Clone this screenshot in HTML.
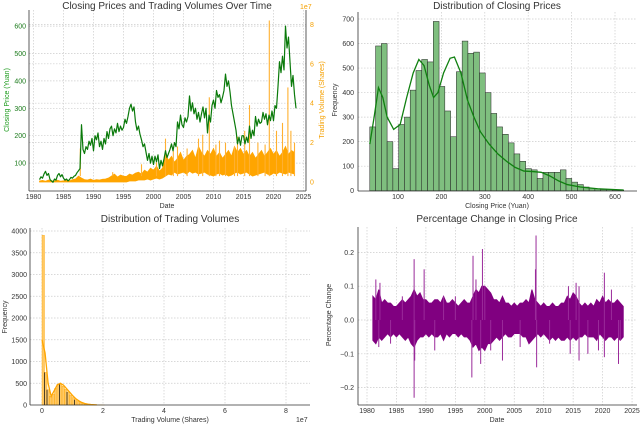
<!DOCTYPE html>
<html><head><meta charset="utf-8"><style>
body{margin:0;background:#fff;}
svg{display:block;font-family:"Liberation Sans",sans-serif;}
</style></head><body>
<svg id="c" width="640" height="425" viewBox="0 0 640 425"></svg>
<script>
// ---- Panel 1 data: closing price (4 points per year, from 1981) ----
const priceStart = 1981;
const priceVals = [40,50,45,60, 70,55,62,40, 35,30,42,38, 55,62,50,58, 45,38,42,35, 40,48,45,52, 55,65,72,80,
240,150,135,160, 150,180,165,190, 145,200,185,210, 160,180,150,190, 170,215,190,225, 235,200,225,210, 245,215,235,220,
230,260,245,270, 300,315,290,305, 250,220,235,205, 185,160,170,140, 110,135,100,125, 95,125,105,130, 80,110,90,115,
145,120,135,150, 170,145,175,160, 250,225,275,240, 230,265,250,270, 345,290,320,280, 300,260,285,250, 280,305,265,300,
210,275,250,310, 330,300,365,340, 350,320,340,365, 425,380,400,360, 310,280,250,220, 170,195,165,200, 200,170,195,175,
235,190,220,200, 270,235,260,245, 250,285,260,280, 240,275,255,290, 255,310,300,380, 470,430,490,440, 600,520,560,470, 380,420,350,300];
// volume band per half-year (1e7 shares) from 1981
const volHi = [.05,.08,.04,.1,.06,.05,.09,.04,.06,.1,.05,.12,
.15,.3,.2,.12,.1,.15,.08,.12,.1,.14,.15,.2,
.3,.4,.25,.35,.3,.28,.4,.35,.45,.5,.4,.6,
.5,.7,.6,.8,.55,.7,
1.4,1.1,1.3,1.0,1.2,1.5,1.1,1.3,1.4,1.6,1.2,1.8,1.5,1.3,1.6,1.4,1.7,1.3,1.5,1.2,1.4,1.6,1.3,1.8,1.5,1.7,1.4,1.6,1.3,1.5,1.2,1.4,1.6,1.3,1.5,1.7,1.4,1.6,1.3,1.5,1.8,1.4,1.6,1.5];
const volLo = [0,0,0,0,0,0,0,0,0,0,0,0,0,0,0,0,0,0,0,0,0,0,0,0,0,0,0,0,0,0,
.05,.05,.05,.1,.1,.1,.15,.1,.15,.2,.15,.2,
.3,.4,.35,.5,.4,.45,.5,.4,.55,.45,.5,.4,.45,.5,.4,.35,.3,.4,.45,.35,.4,.3,.35,.45,.5,.4,.45,.5,.4,.3,.35,.4,.45,.5,.4,.35,.45,.4,.5,.45,.4,.5,.45,.4];
const volSpikeYears = [1987.8,1993.2,1998,2000.5,2002,2003.3,2004,2005.6,2007.5,2008.2,2009.3,2010.4,2011,2012,2013.5,2014,2015.2,2016,2017.4,2018.6,2019.3,2020.5,2021.5,2022.4,2022.9,2023.5];
const volSpikeVals = [1.7,0.5,0.9,1.0,2.2,1.6,1.8,1.7,2.2,2.4,4.3,1.9,2.1,2.0,1.8,2.3,2.6,3.9,2.0,1.9,8.2,2.6,3.0,4.8,2.6,2.0];
const yearTicks = [1980,1985,1990,1995,2000,2005,2010,2015,2020,2025];
const priceTicks = [100,200,300,400,500,600];
const volTicks = [0,2,4,6,8];
// ---- Panel 2: closing price histogram ----
const histStart = 35, histWidth = 13.3;
const priceCounts = [260,590,600,200,90,270,300,410,490,535,525,690,425,325,220,485,610,560,565,480,400,315,260,230,195,150,120,90,85,50,75,75,75,85,50,35,25,15,10,8,5,5,3,2];
const kdeX = [35,45,55,65,75,90,105,120,135,148,160,172,182,192,205,220,230,245,260,275,290,310,330,350,370,390,410,430,450,470,490,520,560,620];
const kdeY = [190,300,420,380,300,250,270,380,480,535,510,430,380,400,480,540,545,480,370,300,240,190,150,120,95,80,78,75,60,40,25,15,8,3];
const freqTicks2 = [0,100,200,300,400,500,600,700];
const priceXTicks = [100,200,300,400,500,600];
// ---- Panel 3: volume histogram ----
const vbinWidth = 0.082;
const volCounts = [3900,750,350,200,250,380,480,480,430,360,300,230,170,120,80,50,35,20,15,10,6,4,3,2,1];
const vkdeX = [0,0.1,0.2,0.3,0.4,0.5,0.6,0.7,0.8,0.9,1.0,1.1,1.2,1.3,1.4,1.5,1.6,1.8];
const vkdeY = [1500,1200,500,200,330,460,500,460,380,300,220,150,100,60,35,20,10,3];
const freqTicks3 = [0,500,1000,1500,2000,2500,3000,3500,4000];
const volXTicks = [0,2,4,6,8];
// ---- Panel 4: pct change envelope per half-year from 1981 ----
const pctHi = [.07,.06,.09,.05,.06,.05,.05,.04,.04,.05, .06,.05,.06,.07,.09,.07,.08,.06,.06,.05,
.05,.06,.06,.05,.07,.05,.05,.06,.05,.04, .05,.06,.05,.05,.07,.09,.08,.1,.1,.09,
.08,.06,.06,.05,.07,.05,.05,.04,.05,.04, .05,.05,.06,.05,.09,.06,.05,.04,.05,.04,
.04,.05,.04,.04,.05,.05,.07,.06,.08,.07, .05,.04,.05,.04,.05,.04,.06,.05,.07,.05, .06,.05,.05,.06,.05,.04];
const pctLo = [-.06,-.07,-.05,-.06,-.05,-.04,-.05,-.04,-.05,-.04, -.05,-.06,-.05,-.07,-.08,-.06,-.05,-.05,-.04,-.05,
-.04,-.05,-.05,-.04,-.06,-.04,-.05,-.04,-.04,-.05, -.04,-.05,-.05,-.06,-.08,-.07,-.09,-.08,-.09,-.07,
-.07,-.06,-.05,-.06,-.05,-.04,-.05,-.05,-.04,-.04, -.04,-.05,-.05,-.07,-.06,-.05,-.04,-.05,-.04,-.05,
-.06,-.05,-.06,-.05,-.06,-.06,-.05,-.06,-.05,-.06, -.05,-.05,-.04,-.05,-.05,-.05,-.06,-.04,-.05,-.06, -.05,-.05,-.06,-.05,-.06,-.05];
const pctSpikeYears = [1981.5,1982.2,1982,1988,1988,1988.1,1989.7,1991.5,1993,1998,1997.8,1998.5,1999.6,1999.3,2000,2003,2001,2008.7,2008.8,2008.6,2014.2,2014.5,2015.5,2016,2016,2017.5,2020.3,2020.3,2022.7,2021.5,2019.3,1984,1986,1995,2006,2011,2023];
const pctSpikeVals = [0.12,0.11,-0.08,0.18,-0.23,-0.12,0.15,-0.09,0.07,0.19,-0.17,0.12,0.21,-0.13,0.10,-0.12,-0.09,0.25,-0.14,0.15,0.1,-0.1,0.11,0.1,-0.12,-0.1,0.14,-0.11,-0.13,0.09,-0.09,-0.07,0.07,0.07,-0.08,-0.07,-0.06];
const pctTicks = [-0.2,-0.1,0.0,0.1,0.2];

const svg = document.getElementById('c');
const NS = 'http://www.w3.org/2000/svg';
function el(tag, attrs, parent){const e=document.createElementNS(NS,tag);for(const k in attrs)e.setAttribute(k,attrs[k]);(parent||svg).appendChild(e);return e;}
function txt(x,y,s,attrs){const e=el('text',Object.assign({x:x,y:y,'font-size':7,fill:'#333'},attrs||{}));e.textContent=s;return e;}
function grid(x1,y1,x2,y2){return el('line',{x1:x1,y1:y1,x2:x2,y2:y2,stroke:'#ccc','stroke-width':0.7,'stroke-dasharray':'1.5,1.5'});}

// ===== Panel 1 =====
const p1x = y => 33.5 + (y-1980)*6;
const p1p = p => 190.5 - p*0.274;
const p1v = v => 182 - v*19.7;
let g, t;
yearTicks.forEach(y=>{g=grid(p1x(y),10,p1x(y),191);
 t=txt(p1x(y),199,String(y),{'text-anchor':'middle'});});
priceTicks.forEach(p=>{g=grid(29,p1p(p),306,p1p(p));
 t=txt(26,p1p(p)+2.5,String(p),{'text-anchor':'end',fill:'#1a7a1a'});});
volTicks.forEach(v=>{if(v>0){g=grid(29,p1v(v),306,p1v(v));}
 t=txt(310,p1v(v)+2.5,String(v),{fill:'#f5a000'});});
let up=[],dn=[];
volHi.forEach((v,i)=>{up.push(p1x(priceStart+i*0.5)+','+p1v(v));});
volLo.forEach((v,i)=>{dn.unshift(p1x(priceStart+i*0.5)+','+p1v(v));});
let poly=el('polygon',{points:up.concat(dn).join(' '),fill:'#ffa500',stroke:'#ffa500','stroke-width':0.8});

volSpikeYears.forEach((y,i)=>{const l=el('line',{x1:p1x(y),x2:p1x(y),y1:p1v(0.3),y2:p1v(volSpikeVals[i]),stroke:'#ffb030','stroke-width':1.1});
 });
const pts=priceVals.map((p,i)=>p1x(priceStart+i*0.25)+','+p1p(p)).join(' ');
let pl=el('polyline',{points:pts,fill:'none',stroke:'#0a7a0a','stroke-width':1.2,'stroke-linejoin':'round'});

el('line',{x1:29,y1:10,x2:29,y2:191,stroke:'#333','stroke-width':0.8});
el('line',{x1:29,y1:191,x2:306,y2:191,stroke:'#333','stroke-width':0.8});
el('line',{x1:306,y1:10,x2:306,y2:191,stroke:'#333','stroke-width':0.8});
t=txt(167,9,'Closing Prices and Trading Volumes Over Time',{'text-anchor':'middle','font-size':10});
t=txt(300,9,'1e7',{'font-size':7,fill:'#f5a000'});
t=txt(167,208,'Date',{'text-anchor':'middle'});
t=txt(0,0,'Closing Price (Yuan)',{'text-anchor':'middle',fill:'#1a9a1a',transform:'translate(9,100) rotate(-90)'});
t=txt(0,0,'Trading Volume (Shares)',{'text-anchor':'middle',fill:'#f5a000',transform:'translate(324,100) rotate(-90)'});

// ===== Panel 2 =====
const p2x = c => 354.6 + c*0.434;
const p2y = f => 190.7 - f*0.2453;
priceXTicks.forEach(c=>{g=grid(p2x(c),12,p2x(c),191);
 t=txt(p2x(c),199,String(c),{'text-anchor':'middle'});});
freqTicks2.forEach(f=>{if(f>0){g=grid(358,p2y(f),637,p2y(f));}
 t=txt(354,p2y(f)+2.5,String(f),{'text-anchor':'end'});});
priceCounts.forEach((n,i)=>{const x0=p2x(histStart+i*histWidth),x1=p2x(histStart+(i+1)*histWidth);
 const r=el('rect',{x:x0,y:p2y(n),width:x1-x0,height:p2y(0)-p2y(n),fill:'#7fbf7f',stroke:'#222','stroke-width':0.5});
 });
let kp=kdeX.map((c,i)=>p2x(c)+','+p2y(kdeY[i])).join(' ');
let kl=el('polyline',{points:kp,fill:'none',stroke:'#108010','stroke-width':1.3});

el('line',{x1:358,y1:12,x2:358,y2:191,stroke:'#333','stroke-width':0.8});
el('line',{x1:358,y1:191,x2:637,y2:191,stroke:'#333','stroke-width':0.8});
t=txt(497,9,'Distribution of Closing Prices',{'text-anchor':'middle','font-size':10});
t=txt(497,208,'Closing Price (Yuan)',{'text-anchor':'middle'});
t=txt(0,0,'Frequency',{'text-anchor':'middle',transform:'translate(337,100) rotate(-90)'});

// ===== Panel 3 =====
const p3x = v => 42 + v*30.5;
const p3y = f => 405 - f*0.0435;
volXTicks.forEach(v=>{g=grid(p3x(v),228,p3x(v),405);
 t=txt(p3x(v),413,String(v),{'text-anchor':'middle'});});
freqTicks3.forEach(f=>{if(f>0){g=grid(30,p3y(f),310,p3y(f));}
 t=txt(27,p3y(f)+2.5,String(f),{'text-anchor':'end'});});
volCounts.forEach((n,i)=>{const x0=p3x(i*vbinWidth),x1=p3x((i+1)*vbinWidth);
 const r=el('rect',{x:x0,y:p3y(n),width:x1-x0,height:p3y(0)-p3y(n),fill:'#ffc966',stroke:'#ffa500','stroke-width':0.4});
 });
[1,2,7,10,13].forEach(i=>{el('line',{x1:p3x(i*vbinWidth),x2:p3x(i*vbinWidth),y1:405,y2:p3y(volCounts[i]),stroke:'#222','stroke-width':0.8});});
let vk=vkdeX.map((v,i)=>p3x(v)+','+p3y(vkdeY[i])).join(' ');
let vl=el('polyline',{points:vk,fill:'none',stroke:'#ffa500','stroke-width':1.3});

el('line',{x1:30,y1:228,x2:30,y2:405,stroke:'#333','stroke-width':0.8});
el('line',{x1:30,y1:405,x2:310,y2:405,stroke:'#333','stroke-width':0.8});
t=txt(170,222,'Distribution of Trading Volumes',{'text-anchor':'middle','font-size':10});
t=txt(170,422,'Trading Volume (Shares)',{'text-anchor':'middle'});
t=txt(296,422,'1e7',{});
t=txt(0,0,'Frequency',{'text-anchor':'middle',transform:'translate(7,317) rotate(-90)'});

// ===== Panel 4 =====
const p4x = y => 367 + (y-1980)*5.89;
const p4y = c => 320 - c*338;
yearTicks.forEach(y=>{g=grid(p4x(y),227,p4x(y),405);
 t=txt(p4x(y),413,String(y),{'text-anchor':'middle'});});
pctTicks.forEach(c=>{g=grid(358,p4y(c),637,p4y(c));
 t=txt(354,p4y(c)+2.5,(c<0?'\u22120.':'0.')+Math.round(Math.abs(c)*10),{'text-anchor':'end'});});
up=[];dn=[];
pctHi.forEach((v,i)=>{up.push(p4x(1981+i*0.5)+','+p4y(v));});
pctLo.forEach((v,i)=>{dn.unshift(p4x(1981+i*0.5)+','+p4y(v));});
poly=el('polygon',{points:up.concat(dn).join(' '),fill:'#800080',stroke:'#800080','stroke-width':1});

pctSpikeYears.forEach((y,i)=>{const l=el('line',{x1:p4x(y),x2:p4x(y),y1:p4y(0),y2:p4y(pctSpikeVals[i]),stroke:'#9a2a9a','stroke-width':1});
 });
el('line',{x1:358,y1:227,x2:358,y2:405,stroke:'#333','stroke-width':0.8});
el('line',{x1:358,y1:405,x2:637,y2:405,stroke:'#333','stroke-width':0.8});
t=txt(497,222,'Percentage Change in Closing Price',{'text-anchor':'middle','font-size':10});
t=txt(497,422,'Date',{'text-anchor':'middle'});
t=txt(0,0,'Percentage Change',{'text-anchor':'middle',transform:'translate(331,315) rotate(-90)'});
</script>
</body></html>
